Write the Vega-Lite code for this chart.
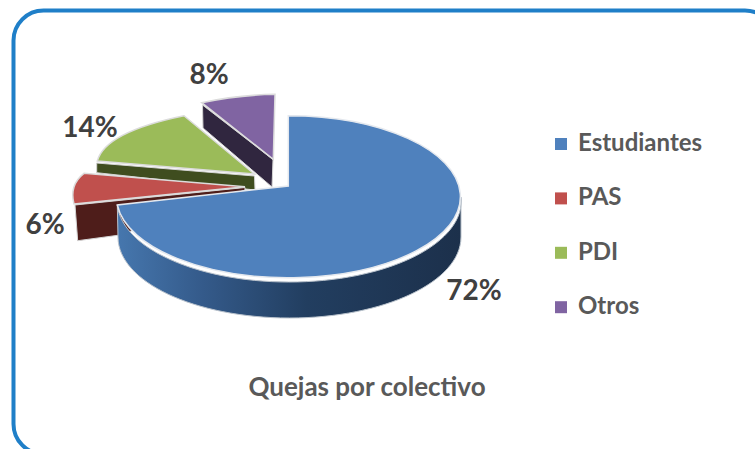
{
"$schema":"https://vega.github.io/schema/vega-lite/v6.json",
"width":755,"height":449,"padding":0,"autosize":{"type":"none"},
"background":"white",
"config":{"view":{"stroke":null},"font":"Lato"},
"title":{"text":"Quejas por colectivo","orient":"top","anchor":"middle","frame":"group","dx":-10.5,"dy":414,"offset":0,"baseline":"middle","font":"Lato","fontSize":26,"fontWeight":"bold","color":"#595959"},
"data":{"values":[
{"colectivo":"Otros","porcentaje":0.08},
{"colectivo":"PDI","porcentaje":0.14},
{"colectivo":"PAS","porcentaje":0.06},
{"colectivo":"Estudiantes","porcentaje":0.72}
]},
"encoding":{
"x":{"datum":0,"type":"quantitative","axis":null,"scale":{"domain":[0,755]}},
"y":{"datum":0,"type":"quantitative","axis":null,"scale":{"domain":[449,0]}}
},
"layer":[
{"data":{"values":[{"marco":"borde"}]},
"mark":{"type":"rect","clip":true,"fill":"white","stroke":"#1f7fc8","strokeWidth":4,"cornerRadius":30},
"encoding":{"x":{"datum":13.5,"type":"quantitative","axis":null},"x2":{"datum":775},"y":{"datum":10.5,"type":"quantitative","axis":null},"y2":{"datum":454}}},
{"transform":[{"filter":"datum.colectivo !== 'Estudiantes'"}],
"mark":{"type":"point","filled":true,"size":4,"opacity":1,"stroke":"#d4d4d4","strokeWidth":1},
"encoding":{
"shape":{"field":"colectivo","type":"nominal","legend":null,"scale":{"domain":["Otros","PDI","PAS"],"range":[
"M202.5,105 L273,159.5 L272,187 L203,128 Z",
"M96.7,163 L254.5,176 L255,190 L96.7,172.7 Z",
"M75,205 L245,187.5 L245,190 L120,235 L77.7,240.7 Z"]}},
"fill":{"field":"colectivo","type":"nominal","legend":null,"scale":{"domain":["Otros","PDI","PAS"],"range":["#30263f","#3f4d1f","#4e1d1a"]}}
}},
{"transform":[{"filter":"datum.colectivo !== 'Estudiantes'"}],
"mark":{"type":"point","filled":true,"size":4,"opacity":1,"stroke":"#dcdcdc","strokeWidth":1.5},
"encoding":{
"shape":{"field":"colectivo","type":"nominal","legend":null,"scale":{"domain":["Otros","PDI","PAS"],"range":[
"M273.3,159.3 L201.7,102.7 Q238,95 275,94.3 Z",
"M254.3,174 L184,115.7 Q105,132 97.3,161 Z",
"M245,186.7 L84,173.3 Q69,185 74,204 Z"]}},
"color":{"field":"colectivo","type":"nominal","sort":null,"scale":{"domain":["Estudiantes","PAS","PDI","Otros"],"range":["#4f81bd","#c0504d","#9bbb59","#8064a2"]},
"legend":{"title":null,"orient":"none","legendX":549,"legendY":132,"symbolType":"square","symbolSize":144,"symbolStrokeWidth":0,"labelFont":"Lato","labelFontSize":24,"labelFontWeight":"bold","labelColor":"#595959","rowPadding":30.4,"labelOffset":5,"symbolOpacity":1,"encode":{"labels":{"update":{"dy":{"value":-3}}}}}}
}},
{"transform":[{"filter":"datum.colectivo === 'Estudiantes'"}],
"mark":{"type":"point","filled":true,"size":4,"opacity":1,"stroke":"#b9c2cc","strokeWidth":1,
"fill":{"gradient":"linear","x1":0,"y1":0,"x2":1,"y2":0,"stops":[{"offset":0,"color":"#4677ae"},{"offset":0.25,"color":"#345a8a"},{"offset":0.55,"color":"#223e60"},{"offset":1,"color":"#1c304b"}]}},
"encoding":{
"shape":{"field":"colectivo","type":"nominal","legend":null,"scale":{"domain":["Estudiantes"],"range":[
"M461,197 A172,81 0 0 1 117.3,205 L118,237 A171.5,81 0 0 0 461,237 Z"]}}
}},
{"transform":[{"filter":"datum.colectivo === 'Estudiantes'"}],
"mark":{"type":"point","filled":true,"size":4,"opacity":1,"stroke":"#e4e8ee","strokeWidth":1.5},
"encoding":{
"shape":{"field":"colectivo","type":"nominal","legend":null,"scale":{"domain":["Estudiantes"],"range":[
"M288.3,115.7 A172,81 0 1 1 117.3,205 L288.3,186 Z"]}},
"color":{"field":"colectivo","type":"nominal"}
}},
{"transform":[{"filter":"datum.colectivo === 'Estudiantes'"}],
"mark":{"type":"text","font":"Lato","fontSize":28,"fontWeight":"bold","color":"#404040"},
"encoding":{"x":{"datum":474},"y":{"datum":291.5},"text":{"field":"porcentaje","type":"quantitative","format":".0%"}}},
{"transform":[{"filter":"datum.colectivo === 'PAS'"}],
"mark":{"type":"text","font":"Lato","fontSize":28,"fontWeight":"bold","color":"#404040"},
"encoding":{"x":{"datum":45},"y":{"datum":225.5},"text":{"field":"porcentaje","type":"quantitative","format":".0%"}}},
{"transform":[{"filter":"datum.colectivo === 'PDI'"}],
"mark":{"type":"text","font":"Lato","fontSize":28,"fontWeight":"bold","color":"#404040"},
"encoding":{"x":{"datum":90},"y":{"datum":128.5},"text":{"field":"porcentaje","type":"quantitative","format":".0%"}}},
{"transform":[{"filter":"datum.colectivo === 'Otros'"}],
"mark":{"type":"text","font":"Lato","fontSize":28,"fontWeight":"bold","color":"#404040"},
"encoding":{"x":{"datum":209},"y":{"datum":75.5},"text":{"field":"porcentaje","type":"quantitative","format":".0%"}}}
],
"resolve":{"scale":{"shape":"independent"}}
}
